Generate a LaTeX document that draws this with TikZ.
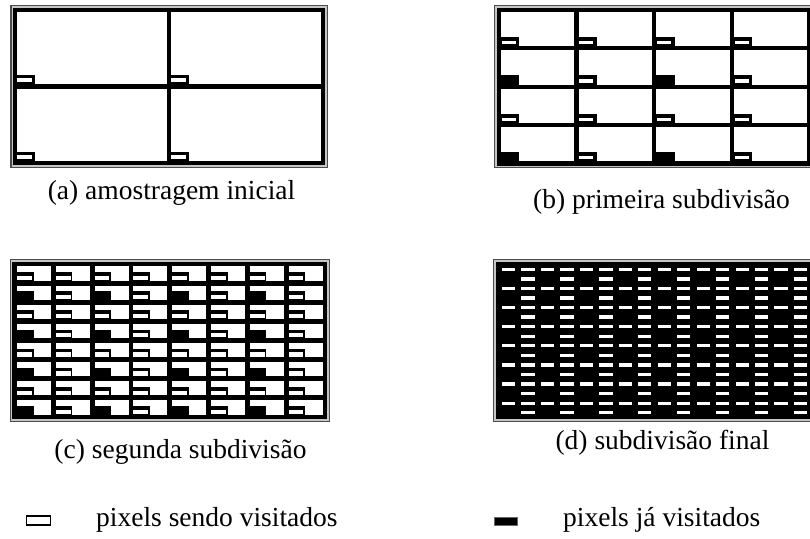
\documentclass[tikz,border=0pt]{standalone}
\usepackage{fontspec}
\setmainfont{Liberation Serif}
\tikzset{
  captext/.style={font=\fontsize{27.5}{33}\selectfont, inner sep=0pt, anchor=base},
  legtext/.style={font=\fontsize{27.5}{33}\selectfont, inner sep=0pt, anchor=base west},
  gline/.style={line width=\pw, black, line cap=rect},
}
% panel drawer: uses \pXa \pYa \pXb \pYb \pN \pw \pVis \ox \oy \ixa \ixb \iya \iyb
\newcommand\drawpanel{%
  \pgfmathsetmacro\dx{(\pXb-\pXa)/\pN}%
  \pgfmathsetmacro\dy{(\pYb-\pYa)/\pN}%
  \draw[gray!45, line width=1.8pt] (\pXa-2.8,\pYa-2.8) rectangle (\pXb+2.8,\pYb+2.8);
  \draw[black!70, line width=1.3pt] (\pXa-4.3,\pYa-4.3) rectangle (\pXb+4.3,\pYb+4.3);
  \foreach \i in {1,...,\pN}{\foreach \j in {1,...,\pN}{%
    \pgfmathsetmacro\cl{\pXa+(\i-1)*\dx}%
    \pgfmathsetmacro\cb{\pYa+\j*\dy}%
    \fill[black] (\cl,\cb-\oy) rectangle (\cl+\ox,\cb);
  }}
  \foreach \i in {1,...,\pN}{\foreach \j in {1,...,\pN}{%
    \pgfmathtruncatemacro\vis{\pVis*(1-mod(\j,2))*mod(\i,2)}%
    \ifnum\vis=0
      \pgfmathsetmacro\cl{\pXa+(\i-1)*\dx}%
      \pgfmathsetmacro\cb{\pYa+\j*\dy}%
      \fill[white] (\cl+\ixa,\cb-\iya) rectangle (\cl+\ixb,\cb-\iyb);
    \fi
  }}
  \foreach \k in {0,...,\pN}{%
    \draw[gline] (\pXa+\k*\dx,\pYa) -- (\pXa+\k*\dx,\pYb);
    \draw[gline] (\pXa,\pYa+\k*\dy) -- (\pXb,\pYa+\k*\dy);
  }
}
\begin{document}
\begin{tikzpicture}[x=1pt,y=-1pt]
\useasboundingbox[fill=white] (0,0) rectangle (810,538);

% (a)
\def\pXa{15.2}\def\pYa{10}\def\pXb{323.3}\def\pYb{163}\def\pN{2}\def\pw{4.2pt}\def\pVis{0}
\def\ox{20}\def\oy{11.5}\def\ixa{2.1}\def\ixb{16.8}\def\iya{8.3}\def\iyb{4.5}
\drawpanel

% (b)
\def\pXa{498.8}\def\pYa{10}\def\pXb{809.5}\def\pYb{163.5}\def\pN{4}\def\pw{4.2pt}\def\pVis{1}
\def\ox{20.5}\def\oy{11.4}\def\ixa{3}\def\ixb{17}\def\iya{7.6}\def\iyb{4.2}
\drawpanel

% (c)
\def\pXa{14.5}\def\pYa{264}\def\pXb{325}\def\pYb{417}\def\pN{8}\def\pw{4.8pt}\def\pVis{1}
\def\ox{19}\def\oy{10.9}\def\ixa{2.4}\def\ixb{17.2}\def\iya{7.3}\def\iyb{3.1}
\drawpanel

% (d)
\def\pXa{498}\def\pYa{264}\def\pXb{809.5}\def\pYb{417}\def\pN{16}\def\pw{3.8pt}\def\pVis{1}
\def\ox{20.5}\def\oy{11.5}\def\ixa{3.9}\def\ixb{17.2}\def\iya{5.9}\def\iyb{2.6}
\drawpanel

% captions
\node[captext] (capa) at (171.5,199) {(a) amostragem inicial};
\node[captext] (capb) at (661.5,208) {(b) primeira subdivisão};
\node[captext] (capc) at (180.5,458) {(c) segunda subdivisão};
\node[captext] (capd) at (662.5,449) {(d) subdivisão final};

% legend
\node[draw, line width=1.8pt, minimum width=24pt, minimum height=9pt, inner sep=0pt] (legw) at (38.5,520.5) {};
\node[legtext] (legwt) at (96,526) {pixels sendo visitados};
\node[fill=black, draw=black!60, line width=0.8pt, minimum width=23pt, minimum height=8pt, inner sep=0pt] (legb) at (506,521.5) {};
\node[legtext] (legbt) at (563,526) {pixels já visitados};
\end{tikzpicture}
\end{document}
